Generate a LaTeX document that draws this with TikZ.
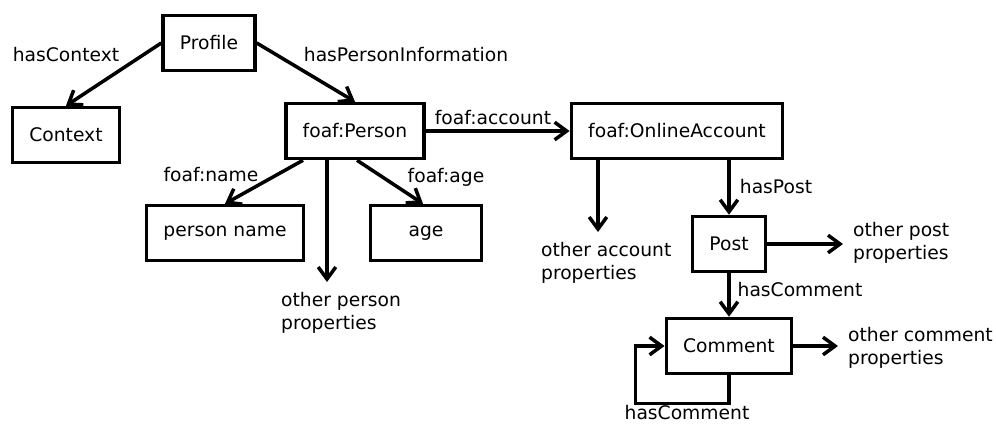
\documentclass[tikz,border=0pt]{standalone}
\usepackage{fontspec}
\setmainfont{DejaVu Sans}
\usetikzlibrary{arrows.meta,calc}
\tikzset{
	>={Straight Barb[length=3mm,width=4.4mm]},
	concept/.style={draw, line width=2.5pt, inner xsep=12pt, minimum height=1.375cm},
	prop/.style={align=left, inner sep=7pt},
	rel/.style={inner sep=0pt},
	link/.style={->, line width=2.5pt}
}

\begin{document}
\begin{tikzpicture}[
x = 0.025cm,
y = -0.025cm,
every node/.style = {
	font = \fontsize{13.3}{16.5}\selectfont,
}
]
\useasboundingbox (0,0) rectangle (996,423);

% concepts
\node[concept] (profile) at (209,43) {Profile};
\node[concept] (context) at (66,135) {Context};
\node[concept] (person) at (355,131) {foaf:Person};
\node[concept] (pname) at (225,233) {person name};
\node[concept, minimum width=2.775cm] (age) at (426,233) {age};
\node[concept] (account) at (677,131) {foaf:OnlineAccount};
\node[concept] (post) at (729,244) {Post};
\node[concept] (comment) at (729,346) {Comment};

% open properties
\node[prop, anchor=north west] (personprops) at (271,282) {other person\\properties};
\node[prop, anchor=north west] (accountprops) at (531,232) {other account\\properties};
\node[prop, anchor=west] (postprops) at (843,243) {other post\\properties};
\node[prop, anchor=west] (commentprops) at (838,348) {other comment\\properties};

% relation names
\node[rel] (lcontext) at (66,55) {hasContext};
\node[rel] (lperson) at (406,55) {hasPersonInformation};
\node[rel] (laccount) at (493,118) {foaf:account};
\node[rel] (lname) at (211,175) {foaf:name};
\node[rel] (lage) at (446,177) {foaf:age};
\node[rel] (lpost) at (776,187) {hasPost};
\node[rel] (lcomment) at (800,290) {hasComment};
\node[rel] (lreply) at (687,413) {hasComment};

\draw[link] (profile.west) -- (context.north);
\draw[link] (profile.east) -- (person.north);
\draw[link] (person.east) -- (account.west);
\draw[link] ($(person.south)+(-52,0)$) -- (pname.north);
\draw[link] ($(person.south)+(-28,0)$) coordinate (p1) -- (p1 |- personprops.north);
\draw[link] ($(person.south)+(2,0)$) -- ($(age.north)+(-3,0)$);
\draw[link] ($(account.south)+(-79,0)$) coordinate (a1) -- (a1 |- accountprops.north);
\draw[link] ($(account.south)+(52,0)$) -- (post.north);
\draw[link] (post.east) -- (post.east -| postprops.west);
\draw[link] (post.south) -- (comment.north);
\draw[link] (comment.east) -- (comment.east -| commentprops.west);
\draw[link] (comment.south) -- ++(0,28) -| ($(comment.west)+(-29,0)$) -- (comment.west);

\end{tikzpicture}
\end{document}
